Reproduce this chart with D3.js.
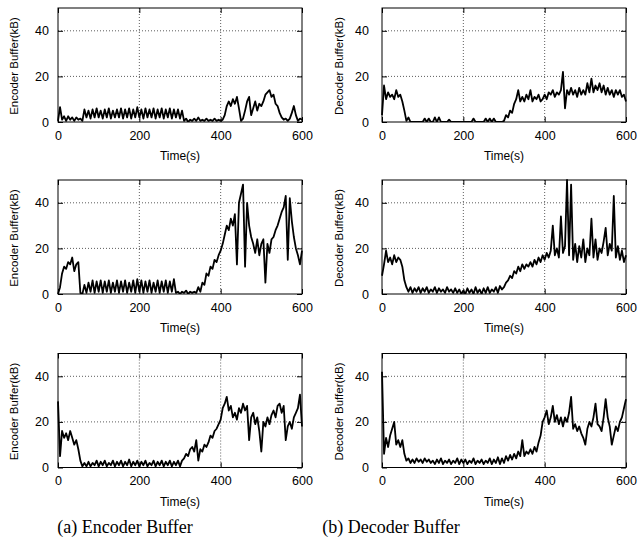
<!DOCTYPE html>
<html><head><meta charset="utf-8">
<script src="https://cdn.jsdelivr.net/npm/d3@7"></script>
<style>body{margin:0;background:#fff}</style>
</head><body>
<script>
// sampling step (seconds) of the series below
const timeStep = 5;
const xTicks = [0, 200, 400, 600];
const yTicks = [0, 20, 40];
const xDomain = [0, 600];
const yDomain = [0, 50];
const yTitles = ["Encoder Buffer(kB)", "Decoder Buffer(kB)"];
const xTitle = "Time(s)";
const captions = ["(a) Encoder Buffer", "(b) Decoder Buffer"];

// Encoder buffer, run 1 (kB), t = 0..600 step 5
const enc1 = [
  0.5, 6.5, 1, 2.5, 0.5, 2.5, 1, 2, 0.5, 2,
  1, 1.5, 0.5, 5.5, 2, 5, 1.5, 5.5, 2, 6,
  2, 5, 1.5, 5.5, 2, 6, 1.5, 5, 2, 5.5,
  2, 6, 1.5, 5.5, 2, 6, 1.5, 5.5, 2, 6.5,
  2, 5.5, 1.5, 6, 2, 5.5, 2, 6, 1.5, 5.5,
  2, 6, 1.5, 5.5, 2, 6, 1.5, 5.5, 2, 5.5,
  1.5, 5, 0.5, 1.5, 0, 1, 0.5, 1.5, 0.5, 2,
  0.5, 1, 0.5, 1.5, 0.5, 1, 0.5, 1.5, 0.5, 1,
  0.5, 1, 3, 7, 9, 7, 10, 8, 11, 6,
  0.5, 1.5, 5, 9, 11, 3, 6, 9, 5, 8,
  7, 9, 12, 13, 14, 11, 12, 8, 7, 4,
  2, 1, 1.5, 0.5, 1.5, 4, 7, 3, 0.5, 1.5,
  1];
// Decoder buffer, run 1
const dec1 = [
  3, 16, 10, 13, 11, 12, 10, 14, 11, 12,
  9, 5, 0.5, 2, 0, 0, 0, 0, 0, 0,
  0, 1.5, 0, 1.5, 0, 0, 2, 0, 2, 0,
  0, 0, 0, 1, 0, 0, 0, 0, 0, 0,
  0, 0, 0, 0, 0, 1.5, 0, 0, 0, 0,
  0, 1.5, 0, 1.5, 0, 1.5, 0, 0, 0, 0,
  0.5, 3, 2, 5, 4, 8, 10, 14, 9, 11,
  9, 12, 10, 14, 9, 11, 10, 12, 9, 10,
  12, 10, 13, 12, 14, 11, 13, 12, 14, 22,
  6, 14, 12, 15, 12, 14, 11, 15, 12, 14,
  12, 17, 13, 19, 13, 16, 14, 17, 13, 16,
  12, 15, 12, 14, 11, 14, 12, 14, 11, 12,
  9];
// Encoder buffer, run 2
const enc2 = [
  0, 3, 9, 12, 11, 14, 13, 16, 10, 13,
  14, 0.5, 0, 4, 0.5, 5, 1, 6, 0.5, 5.5,
  1, 6, 0.5, 5.5, 1, 6, 0.5, 5, 1, 6,
  0.5, 5.5, 1, 6, 0.5, 5, 1, 6, 0.5, 6.5,
  1, 6, 0.5, 5.5, 1, 6, 0.5, 5, 1, 6,
  0.5, 5.5, 1, 6, 0.5, 5.5, 1, 6.5, 0.5, 1,
  0, 1, 0.5, 1.5, 0, 1, 0.5, 1, 0.5, 3,
  1, 5, 4, 9, 8, 12, 11, 15, 14, 17,
  19, 22, 26, 30, 28, 33, 30, 35, 13, 40,
  44, 48, 12, 40, 30, 25, 22, 18, 24, 17,
  22, 24, 5, 22, 18, 24, 25, 28, 30, 33,
  36, 38, 43, 15, 42, 32, 25, 20, 17, 13,
  19];
// Decoder buffer, run 2
const dec2 = [
  8, 13, 19, 14, 16, 13, 17, 14, 16, 15,
  12, 6, 3, 1, 3, 0.5, 2.5, 1, 3, 0.5,
  2.5, 1, 3, 0.5, 2, 1, 3, 0.5, 2.5, 1,
  2, 0.5, 3, 1, 2, 0.5, 2.5, 0.5, 2, 0,
  1.5, 0, 2.5, 0.5, 2, 0, 3, 0.5, 2, 0,
  2.5, 0.5, 3, 0.5, 2, 1, 3, 0.5, 3.5, 2,
  3, 5, 6, 8, 7, 10, 9, 12, 10, 13,
  11, 13, 12, 14, 12, 15, 13, 16, 14, 17,
  15, 18, 16, 19, 30, 17, 20, 16, 34, 18,
  21, 50, 17, 48, 15, 22, 14, 21, 16, 24,
  14, 20, 17, 33, 16, 24, 15, 20, 18, 23,
  29, 17, 22, 19, 43, 16, 21, 15, 19, 14,
  17];
// Encoder buffer, run 3
const enc3 = [
  29, 5, 16, 13, 15, 12, 16, 13, 10, 12,
  8, 3, 0.5, 2, 0.5, 2.5, 0.5, 2, 1, 3,
  0.5, 2.5, 1, 3, 0.5, 2, 1, 3, 0.5, 2.5,
  1, 3, 0.5, 2.5, 1, 3.5, 0.5, 2.5, 1, 3,
  0.5, 2.5, 1, 3, 0.5, 2, 1, 3, 0.5, 2.5,
  1, 3, 0.5, 2.5, 1, 3, 0.5, 2.5, 1, 3,
  0.5, 3, 4, 6, 5, 8, 9, 7, 12, 3,
  8, 7, 10, 9, 11, 14, 13, 16, 17, 19,
  21, 26, 28, 31, 25, 27, 22, 24, 21, 26,
  24, 28, 25, 27, 12, 22, 24, 19, 22, 16,
  7, 20, 18, 22, 19, 23, 25, 22, 27, 28,
  24, 27, 12, 18, 20, 17, 22, 24, 26, 32,
  18];
// Decoder buffer, run 3
const dec3 = [
  42, 6, 13, 9, 14, 17, 20, 10, 12, 9,
  12, 6, 3, 4, 2, 3.5, 2, 4, 2.5, 3.5,
  2, 4, 2.5, 3.5, 2, 3, 1.5, 3.5, 2, 4,
  1.5, 3, 2, 3.5, 1.5, 3, 2, 4, 1.5, 3.5,
  2, 3.5, 1.5, 3, 2, 4, 1.5, 3, 2, 3.5,
  1.5, 3, 2, 4, 1.5, 3.5, 2, 4.5, 1.5, 4,
  2, 5, 3, 5.5, 3.5, 6, 4, 7, 5, 12,
  5, 7, 6, 8, 6, 9, 7, 11, 14, 20,
  22, 25, 19, 22, 27, 20, 23, 19, 22, 18,
  22, 20, 24, 31, 17, 19, 16, 18, 15, 13,
  10, 17, 20, 18, 22, 28, 19, 18, 16, 22,
  30, 22, 18, 10, 14, 18, 16, 20, 22, 26,
  30];

const panels = [
  {row: 0, col: 0, values: enc1},
  {row: 0, col: 1, values: dec1},
  {row: 1, col: 0, values: enc2},
  {row: 1, col: 1, values: dec2},
  {row: 2, col: 0, values: enc3},
  {row: 2, col: 1, values: dec3}
];

const W = 639, H = 542;
const colLeft = [58, 382];
const rowTop = [8, 180, 353.5];
const pw = 244, ph = 114;
const titleX = [14, 339];
const captionX = [125, 391];
const sans = "'Liberation Sans', Arial, Helvetica, sans-serif";

const svg = d3.select("body").append("svg")
  .attr("width", W).attr("height", H)
  .style("display", "block");

panels.forEach((p, k) => {
  const x0 = colLeft[p.col], y0 = rowTop[p.row];
  const x = d3.scaleLinear().domain(xDomain).range([0, pw]);
  const y = d3.scaleLinear().domain(yDomain).range([ph, 0]);
  const g = svg.append("g").attr("transform", `translate(${x0},${y0})`);

  g.append("clipPath").attr("id", "clip" + k)
    .append("rect").attr("x", -1).attr("y", -1).attr("width", pw + 2).attr("height", ph + 1);

  // grid
  g.append("g").selectAll("line").data(xTicks.slice(1, -1)).join("line")
    .attr("x1", d => x(d)).attr("x2", d => x(d)).attr("y1", 0).attr("y2", ph)
    .attr("stroke", "#333").attr("stroke-width", 0.8).attr("stroke-dasharray", "1,2");
  g.append("g").selectAll("line").data(yTicks.slice(1)).join("line")
    .attr("y1", d => y(d)).attr("y2", d => y(d)).attr("x1", 0).attr("x2", pw)
    .attr("stroke", "#333").attr("stroke-width", 0.8).attr("stroke-dasharray", "1,2");

  // data line
  const line = d3.line().x((d, i) => x(i * timeStep)).y(d => y(d));
  g.append("path").datum(p.values)
    .attr("clip-path", `url(#clip${k})`)
    .attr("d", line).attr("fill", "none")
    .attr("stroke", "#000").attr("stroke-width", 1.8).attr("stroke-linejoin", "round");

  // axes (inward ticks, gnuplot style)
  const ax = g.append("g").attr("transform", `translate(0,${ph})`)
    .call(d3.axisBottom(x).tickValues(xTicks).tickSize(-5).tickPadding(9).tickFormat(d3.format("d")));
  const axT = g.append("g")
    .call(d3.axisTop(x).tickValues(xTicks).tickSize(-5).tickFormat(""));
  const ay = g.append("g")
    .call(d3.axisLeft(y).tickValues(yTicks).tickSize(-5).tickPadding(p.col === 0 ? 9 : 13).tickFormat(d3.format("d")));
  const ayR = g.append("g").attr("transform", `translate(${pw},0)`)
    .call(d3.axisRight(y).tickValues(yTicks).tickSize(-5).tickFormat(""));
  [ax, axT, ay, ayR].forEach(a => {
    a.select(".domain").remove();
    a.selectAll("line").attr("stroke", "#000");
    a.selectAll("text").attr("font-family", sans).attr("font-size", 12.5).attr("fill", "#000");
  });

  // frame
  g.append("rect").attr("width", pw).attr("height", ph)
    .attr("fill", "none").attr("stroke", "#000").attr("stroke-width", 1);

  // titles
  g.append("text").attr("x", pw / 2).attr("y", ph + 38)
    .attr("text-anchor", "middle").attr("font-family", sans).attr("font-size", 12)
    .text(xTitle);
  svg.append("text")
    .attr("transform", `translate(${titleX[p.col]},${y0 + ph / 2 + 1}) rotate(-90)`)
    .attr("text-anchor", "middle").attr("dominant-baseline", "central")
    .attr("font-family", sans).attr("font-size", 11.5)
    .text(yTitles[p.col]);
});

captions.forEach((c, i) => {
  svg.append("text").attr("x", captionX[i]).attr("y", 533)
    .attr("text-anchor", "middle")
    .attr("font-family", "'Liberation Serif', 'Times New Roman', serif")
    .attr("font-size", 18).text(c);
});
</script>
</body></html>
